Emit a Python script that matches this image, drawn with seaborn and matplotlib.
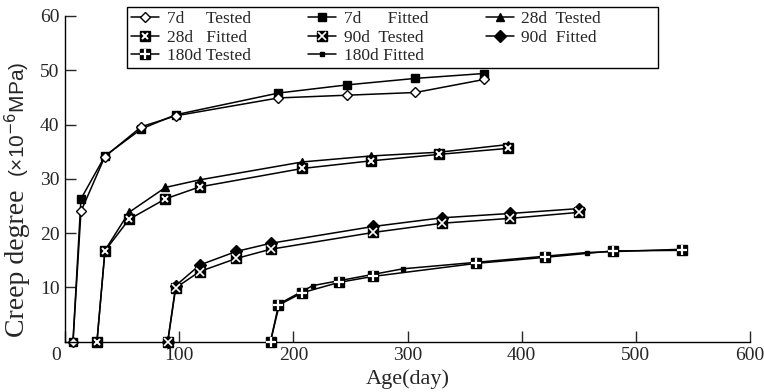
import matplotlib.pyplot as plt
import seaborn as sns
from matplotlib.legend_handler import HandlerTuple
from matplotlib.transforms import ScaledTranslation

sns.set_style("ticks")
plt.rcParams["font.family"] = ["Liberation Serif", "DejaVu Serif"]

# 7d loading age
days_7 = [7, 14, 35, 67, 97, 187, 247, 307, 367]
tested_7 = [0, 24.0, 34.1, 39.6, 41.6, 44.9, 45.4, 45.9, 48.3]
fitted_7 = [0, 26.3, 34.2, 39.2, 41.8, 45.8, 47.3, 48.5, 49.4]

# 28d loading age
days_28 = [28, 35, 56, 88, 118, 208, 268, 328, 388]
tested_28 = [0, 16.8, 23.8, 28.4, 29.8, 33.1, 34.2, 34.9, 36.3]
fitted_28 = [0, 16.7, 22.5, 26.3, 28.5, 31.9, 33.3, 34.5, 35.6]

# 90d loading age
days_90 = [90, 97, 118, 150, 180, 270, 330, 390, 450]
tested_90 = [0, 9.9, 12.9, 15.3, 17.0, 20.1, 21.8, 22.7, 23.8]
fitted_90 = [0, 10.3, 14.1, 16.6, 18.1, 21.2, 22.8, 23.6, 24.5]

# 180d loading age
days_180_t = [180, 187, 208, 240, 270, 360, 420, 480, 540]
tested_180 = [0, 6.7, 9.0, 10.9, 12.0, 14.4, 15.5, 16.7, 16.8]
days_180_f = [180, 188, 217, 296, 457, 540]
fitted_180 = [0, 7.0, 10.3, 13.4, 16.4, 17.0]

pad = "\u00a0" * 12
labels = ["7d     Tested", "7d      Fitted", "28d  Tested" + pad,
          "28d   Fitted", "90d  Tested", "90d  Fitted" + pad,
          "180d Tested", "180d Fitted"]

fig = plt.figure(figsize=(7.64, 3.92), dpi=100)
ax = fig.add_axes([65 / 764, 1 - 341.5 / 392, 685 / 764, 325.5 / 392])


def series(x, y, marker, ms, face="black"):
    sns.lineplot(x=x, y=y, ax=ax, color="black", lw=1.1, sort=False,
                 marker=marker, markersize=ms, markerfacecolor=face,
                 markeredgecolor="black", markeredgewidth=1.0, clip_on=False)
    return ax.lines[-1]


def overlay(x, y, marker, ms, mew):
    return ax.plot(x, y, ls="none", marker=marker, ms=ms, mew=mew,
                   color="white", clip_on=False, zorder=5)[0]


h_ft7 = series(days_7, fitted_7, "s", 6)
h_t7 = series(days_7, tested_7, "D", 5.5, face="white")
h_t28 = series(days_28, tested_28, "^", 6)
h_f28 = series(days_28, fitted_28, "s", 7)
o_f28 = overlay(days_28, fitted_28, "x", 4.5, 1.4)
h_f90 = series(days_90, fitted_90, "D", 6)
h_t90 = series(days_90, tested_90, "s", 6.5)
o_t90 = overlay(days_90, tested_90, "x", 5.5, 1.2)
h_f180 = series(days_180_f, fitted_180, "s", 3.5)
h_t180 = series(days_180_t, tested_180, "s", 7)
o_t180 = overlay(days_180_t, tested_180, "+", 7.5, 1.6)

handles = [h_t7, h_ft7, h_t28, (h_f28, o_f28), (h_t90, o_t90), h_f90,
           (h_t180, o_t180), h_f180]
order = [0, 3, 6, 1, 4, 7, 2, 5]
leg = fig.legend([handles[i] for i in order], [labels[i] for i in order],
                 ncol=3, loc="upper left", bbox_to_anchor=(127 / 764, 1 - 7 / 392),
                 borderaxespad=0, fontsize=12.5, frameon=True, fancybox=False,
                 edgecolor="black", framealpha=1, borderpad=0.25, labelspacing=0.12,
                 handlelength=1.6, handletextpad=0.45, columnspacing=3.3,
                 handler_map={tuple: HandlerTuple(ndivide=1)})
leg.get_frame().set_linewidth(1.0)

ax.set_xlim(0, 600)
ax.set_ylim(0, 60)
ax.set_xticks(range(0, 601, 100))
ax.set_yticks(range(0, 61, 10))
ax.set_yticklabels([""] + [str(v) for v in range(10, 61, 10)])
ax.tick_params(direction="in", length=8, width=1, labelsize=14, pad=4)
sns.despine(ax=ax)
for s in ["left", "bottom"]:
    ax.spines[s].set_linewidth(1.0)
    ax.spines[s].set_color("black")

# the shared "0" label sits left of the corner
lab0 = ax.get_xticklabels()[0]
lab0.set_transform(lab0.get_transform() + ScaledTranslation(-9 / 100, 0, fig.dpi_scale_trans))

ax.set_xlabel("Age(day)", fontsize=16, labelpad=4)
ax.text(-0.07, 0.014, "Creep degree", rotation=90, fontsize=20,
        ha="center", va="bottom", transform=ax.transAxes)
ax.text(-0.07, 0.505, "(×10$^{-6}$MPa)", rotation=90, fontsize=15,
        family="Liberation Sans", ha="center", va="bottom", transform=ax.transAxes)

plt.savefig("out.png", dpi=100)
